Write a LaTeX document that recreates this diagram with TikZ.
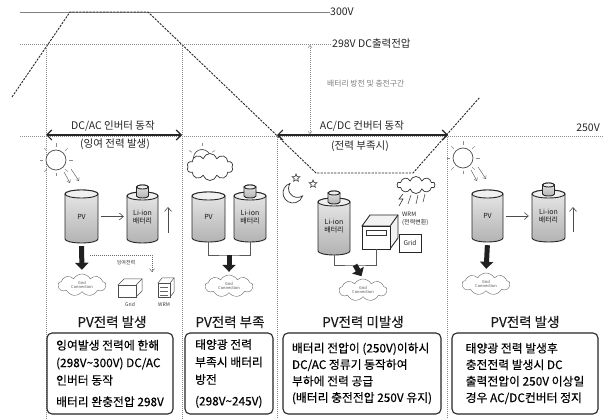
\documentclass[tikz,border=0pt]{standalone}
\usepackage{fontspec}
\setmainfont{Noto Sans CJK KR}
\newfontfamily\heavyfont{Noto Sans CJK KR}[FakeBold=0.2]
\usetikzlibrary{arrows.meta,shapes.geometric,shapes.symbols}

% vertical can: name, centre x, centre y, width, height, label
\newcommand\pvcan[6]{%
  \pgfmathsetmacro\canl{#2-#4/2}%
  \pgfmathsetmacro\canr{#2+#4/2}%
  \pgfmathsetmacro\cant{#3+#5/2-4}%
  \pgfmathsetmacro\canb{#3-#5/2+4}%
  \pgfmathsetmacro\canrx{#4/2}%
  \shadedraw[can body] (\canl,\cant) -- (\canl,\canb)
     arc[start angle=180,end angle=360,x radius=\canrx,y radius=4]
     -- (\canr,\cant)
     arc[start angle=0,end angle=180,x radius=\canrx,y radius=4] -- cycle;
  \filldraw[can top] (#2,\cant) ellipse[x radius=\canrx,y radius=4];
  \node[can label, minimum width=#4pt, minimum height=#5pt] (#1) at (#2,#3) {#6};
}
% battery: a can with a terminal cap on top
\newcommand\liion[5]{%
  \pvcan{#1}{#2}{#3}{#4}{#5}{Li-ion\\배터리}%
  \pgfmathsetmacro\capt{\cant+9}%
  \shadedraw[can body] (#2-6,\cant) -- (#2-6,\capt)
     arc[start angle=180,end angle=0,x radius=6,y radius=2]
     -- (#2+6,\cant)
     arc[start angle=0,end angle=-180,x radius=6,y radius=2] -- cycle;
  \filldraw[can top] (#2,\capt) ellipse[x radius=6,y radius=2];
}
% sun with short rays
\newcommand\sunicon[3]{%
  \node[orb, minimum size=20pt] (#1) at (#2,#3) {};
  \foreach \a in {0,45,...,315}
    \draw[ray, shift={(#2,#3)}] (\a:13) -- (\a:16.5);
}

\begin{document}
\begin{tikzpicture}[x=1pt,y=1pt,
  guide/.style={black!45, line width=0.5pt, dash pattern=on 0.8pt off 1.2pt},
  rule/.style={black!50, line width=0.5pt},
  wave/.style={black!85, line width=0.9pt, dash pattern=on 2.2pt off 1.2pt},
  spanarrow/.style={black!85, line width=1.2pt, {Straight Barb[length=5pt,width=10pt]}-{Straight Barb[length=5pt,width=10pt]}},
  bandarrow/.style={guide, {Straight Barb[length=2.5pt,width=4pt]}-{Straight Barb[length=2.5pt,width=4pt]}},
  lbl/.style={inner sep=0pt, text=black!85, font=\fontsize{10.5}{12}\selectfont},
  faint/.style={inner sep=0pt, text=black!50, font=\fontsize{7.8}{9}\selectfont},
  ttl/.style={inner sep=0pt, text=black!90, font=\heavyfont\fontsize{13.5}{15}\selectfont},
  note/.style={draw=black!85, line width=1.1pt, rounded corners=5pt, minimum height=81pt, inner xsep=3pt, inner ysep=0pt, align=left, text=black},
  can body/.style={draw=black!85, line width=0.9pt, top color=gray!18, bottom color=gray!60},
  can top/.style={draw=black!85, line width=0.9pt, fill=gray!12},
  can label/.style={inner sep=0pt, text=black!90, align=center, font=\fontsize{7}{8}\selectfont},
  ray/.style={black!45, line width=0.6pt},
  orb/.style={circle, draw=black!70, line width=0.7pt, fill=white, inner sep=0pt},
  beam/.style={black!60, line width=0.5pt, -{Straight Barb[length=2.5pt,width=4pt]}},
  feed/.style={black!70, line width=0.6pt, -{Straight Barb[length=4pt,width=7pt]}},
  link/.style={black!65, line width=0.6pt},
  fat/.style={gray!25!black, line width=5pt, -{Triangle[length=7pt,width=13pt]}},
  gridcloud/.style={cloud, cloud puffs=9, cloud puff arc=120, aspect=2.2, draw=black!60, line width=0.4pt, inner sep=0pt, minimum width=48pt, minimum height=22pt, align=center, text=black!70, font=\fontsize{4}{4.5}\selectfont},
  wx/.style={cloud, cloud puffs=10, aspect=1.9, draw=black!80, line width=0.7pt, fill=white, inner sep=0pt},
  tiny/.style={inner sep=0pt, text=black!80, font=\fontsize{5}{6}\selectfont},
  sketch/.style={draw=black!70, line width=0.5pt, fill=white},
]
\fill[white] (0,0) rectangle (607,-419);
\useasboundingbox (0,0) rectangle (607,-419);

% ---------- voltage levels ----------
\coordinate (h300) at (20,-12);
\coordinate (h298) at (20,-44);
\coordinate (h250) at (20,-136);
\coordinate (e250) at (603,-136);
\node[lbl, anchor=west] (v300) at (330,-12) {300V};
\node[lbl, anchor=west] (v298) at (332,-44) {298V\ DC출력전압};
\node[lbl, anchor=east] (v250) at (600,-128) {250V};
\draw[rule] (h300) -- (v300.west);
\draw[guide] (h298) -- (v298.west);
\draw[guide] (h250) -- (e250);

% charge / discharge band
\coordinate (b1) at (310,-45);
\coordinate (b2) at (310,-134);
\draw[bandarrow] (b1) -- (b2);
\node[faint, anchor=west] (band) at (327,-84) {배터리 방전 및 충전구간};

% ---------- DC bus voltage profile ----------
\coordinate (w0) at (12,-97);
\coordinate (w1) at (70,-12);
\coordinate (w2) at (148,-12);
\coordinate (w3) at (316,-173);
\coordinate (w4) at (413,-173);
\coordinate (w5) at (480,-97);
\draw[wave] (w0) -- (w1) -- (w2) -- (w3) -- (w4) -- (w5);

% ---------- panel dividers ----------
\coordinate (d1t) at (46,-44);   \coordinate (d1b) at (46,-419);
\coordinate (d2t) at (182,-44);  \coordinate (d2b) at (182,-419);
\coordinate (d3t) at (277,-135); \coordinate (d3b) at (277,-419);
\coordinate (d4t) at (447,-135); \coordinate (d4b) at (447,-419);
\draw[guide] (d1t) -- (d1b);
\draw[guide] (d2t) -- (d2b);
\draw[guide] (d3t) -- (d3b);
\draw[guide] (d4t) -- (d4b);

% ---------- operating ranges ----------
\coordinate (a1) at (46,-135);
\coordinate (a2) at (182,-135);
\coordinate (a3) at (277,-135);
\coordinate (a4) at (448,-135);
\draw[spanarrow] (a1) -- (a2);
\draw[spanarrow] (a3) -- (a4);
\node[lbl] (inv) at (113,-126) {DC/AC 인버터 동작};
\node[lbl] (invsub) at (115,-144) {(잉여 전력 발생)};
\node[lbl] (conv) at (362,-126) {AC/DC 컨버터 동작};
\node[lbl] (convsub) at (360,-146) {(전력 부족시)};

% ---------- panel 1 : surplus PV ----------
\sunicon{sun1}{56}{-160}
\draw[beam] (64,-172) -- (70,-183);
\draw[beam] (71,-169) -- (79,-181);
\pvcan{pv1}{81.5}{-216.5}{33}{53}{PV}
\liion{bat1}{142.5}{-217.5}{31}{51}
\draw[feed, shorten <=3pt, shorten >=3pt] (pv1.east) -- (pv1.east -| bat1.west);
\coordinate (up1a) at (168,-233);
\coordinate (up1b) at (168,-207);
\draw[feed] (up1a) -- (up1b);
\node[gridcloud] (gc1) at (82,-285) {Grid\\Connection};
\draw[fat, shorten <=3pt, shorten >=4pt] (pv1.south) -- (gc1.north);
\coordinate (s1) at (90,-255);
\coordinate (s1e) at (152,-272);
\draw[guide, black!60, -{Straight Barb[length=3pt,width=5pt]}] (s1) -| (s1e);
\node[tiny] (surplus) at (126,-263) {잉여전력};
% grid and WRM sketches
\filldraw[sketch] (118,-285) -- ++(6,6) -- ++(18,0) -- ++(0,-12) -- ++(-6,-6) -- cycle;
\node[sketch, minimum width=18pt, minimum height=12pt, inner sep=0] (g1) at (127,-291) {};
\draw[black!70, line width=0.5pt] (g1.north east) -- ++(6,6);
\filldraw[sketch] (158,-283) -- ++(4,5) -- ++(12,0) -- ++(0,-14) -- ++(-4,-5) -- cycle;
\node[sketch, minimum width=12pt, minimum height=14pt, inner sep=0] (m1) at (164,-290) {};
\draw[black!70, line width=0.5pt] (m1.north east) -- ++(4,5);
\draw[black!60, line width=0.4pt] (160,-287) -- (168,-287) (160,-291) -- (168,-291) (160,-295) -- (168,-295);
\node[tiny] (g1l) at (130,-305) {Grid};
\node[tiny] (m1l) at (164,-305) {WRM};

% ---------- panel 2 : PV shortfall ----------
\node[orb, minimum size=17pt] (sun2) at (202,-158) {};
\foreach \a in {30,90,150}
  \draw[ray, shift={(202,-158)}] (\a:11.5) -- (\a:15);
\node[wx, minimum width=46pt, minimum height=27pt] (cloud2) at (210,-167) {};
\pvcan{pv2}{208.5}{-217}{33}{50}{PV}
\liion{bat2}{250}{-217}{32}{50}
\coordinate (j2) at (229,-255);
\draw[link] (pv2.south) |- (j2) -| (bat2.south);
\node[gridcloud] (gc2) at (229,-286) {Grid\\Connection};
\draw[fat, shorten >=3pt] (j2) -- (gc2.north);

% ---------- panel 3 : no PV ----------
\draw[black!80, line width=0.7pt, fill=white, shift={(293,-193)}]
  (107:10) arc[start angle=107,end angle=343,radius=10]
  arc[start angle=304,end angle=146,radius=9] -- cycle;
\node[star, star points=5, star point ratio=2.2, draw=black!80, line width=0.6pt, minimum size=8pt, inner sep=0] (st1) at (296,-178) {};
\node[star, star points=5, star point ratio=2.2, draw=black!80, line width=0.6pt, minimum size=8pt, inner sep=0] (st2) at (313,-184) {};
\node[wx, minimum width=38pt, minimum height=17pt] (cloud3) at (416,-185) {};
\draw[black!80, line width=0.6pt] (403,-194) -- (399,-199) -- (403,-199) -- (399,-206);
\draw[black!70, line width=0.6pt] (411,-195) -- (408,-204) (418,-195) -- (416,-204) (425,-194) -- (423,-202);
\liion{bat3}{334}{-226.5}{32}{57}
% WRM converter block
\filldraw[draw=black!85, line width=0.9pt, fill=gray!10] (362,-226) -- (370,-215) -- (398,-215) -- (398,-238) -- (390,-249) -- (390,-226) -- cycle;
\node[draw=black!85, line width=0.9pt, fill=white, minimum width=28pt, minimum height=23pt, inner sep=0] (inv3) at (376,-237.5) {};
\draw[black!85, line width=0.9pt] (inv3.north east) -- (398,-215);
\draw[black!80, line width=0.6pt] (366,-230) rectangle (386,-235);
\node[inner sep=0, anchor=west, align=left, text=black!85, font=\fontsize{6}{7.5}\selectfont] (wrm3) at (402,-219) {WRM\\(전력변환)};
\node[draw=black!85, line width=0.9pt, fill=white, minimum width=22pt, minimum height=18pt, inner sep=0, text=black!85, font=\fontsize{6.5}{7}\selectfont] (grid3) at (410,-243) {Grid};
\coordinate (j3) at (355,-265);
\draw[link] (bat3.south) |- (j3) -| (inv3.south);
\node[gridcloud] (gc3) at (363,-290) {Grid\\Connection};
\draw[fat, shorten >=3pt] (j3) -- (gc3.north);

% ---------- panel 4 : PV recovered ----------
\sunicon{sun4}{463}{-158}
\draw[beam] (471,-170) -- (477,-181);
\draw[beam] (478,-167) -- (486,-179);
\pvcan{pv4}{487.5}{-216}{31}{52}{PV}
\liion{bat4}{548.5}{-216}{33}{52}
\draw[feed, shorten <=3pt, shorten >=3pt] (pv4.east) -- (pv4.east -| bat4.west);
\coordinate (up4a) at (573,-232);
\coordinate (up4b) at (573,-207);
\draw[feed] (up4a) -- (up4b);
\node[gridcloud] (gc4) at (486,-284) {Grid\\Connection};
\draw[fat, shorten <=3pt, shorten >=4pt] (pv4.south) -- (gc4.north);

% ---------- titles and notes ----------
\node[ttl] (t1) at (112,-322) {PV전력 발생};
\node[ttl] (t2) at (230,-322) {PV전력 부족};
\node[ttl] (t3) at (363,-322) {PV전력 미발생};
\node[ttl] (t4) at (525,-322) {PV전력 발생};

\node[note, minimum width=126pt, font=\heavyfont\fontsize{11.8}{17.5}\selectfont] (n1) at (110,-373.5)
  {잉여발생 전력에 한해\\(298V\textasciitilde 300V) DC/AC\\인버터 동작\\[4pt]배터리 완충전압 298V};
\node[note, minimum width=88pt, font=\heavyfont\fontsize{11.8}{17.5}\selectfont] (n2) at (229,-373.5)
  {태양광 전력\\부족시 배터리\\방전\\[4pt](298V\textasciitilde 245V)};
\node[note, minimum width=158pt, font=\heavyfont\fontsize{11.8}{16.5}\selectfont] (n3) at (362,-373.5)
  {배터리 전압이 (250V)이하시\\DC/AC 정류기 동작하여\\부하에 전력 공급\\(배터리 충전전압 250V 유지)};
\node[note, minimum width=146pt, font=\heavyfont\fontsize{11.8}{16.5}\selectfont] (n4) at (525,-373.5)
  {태양광 전력 발생후\\충전전력 발생시 DC\\출력전압이 250V 이상일\\경우 AC/DC컨버터 정지};
\end{tikzpicture}
\end{document}
